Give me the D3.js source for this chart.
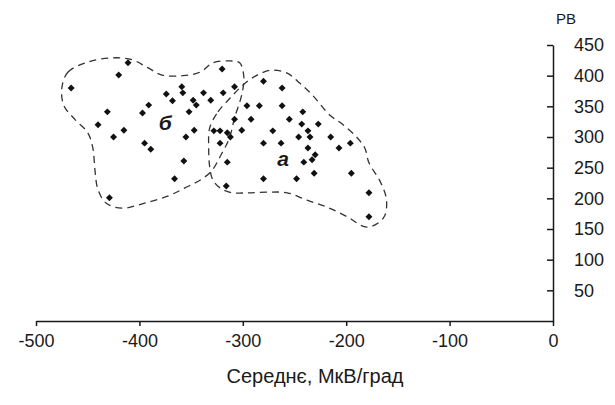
<!DOCTYPE html>
<html>
<head>
<meta charset="utf-8">
<script src="https://cdn.jsdelivr.net/npm/d3@7"></script>
<style>
  body { margin: 0; background: #fff; }
  text { font-family: "Liberation Sans", Arial, sans-serif; fill: #1a1a1a; }
</style>
</head>
<body>
<div id="chart"></div>
<script>
// points: mean (mkV/deg) and PB
var meanVals = [-466, -420, -411, -320, -431, -440, -425, -415, -397, -391, -395, -389,
  -374, -368, -359, -358, -348, -345, -338, -331, -319, -308, -352, -347, -355, -357,
  -366, -429, -316, -315, -322, -328, -322, -315, -312, -308, -301, -296, -284, -292,
  -280, -262, -262, -242, -255, -243, -227, -237, -271, -246, -235, -215, -280, -263,
  -237, -207, -196, -230, -241, -233, -231, -195, -280, -248, -178, -178];
var pbVals = [380, 401, 421, 411, 341, 320, 300, 311, 339, 352, 290, 280,
  370, 359, 382, 372, 360, 352, 372, 360, 372, 382, 341, 311, 300, 261,
  232, 201, 220, 259, 290, 310, 310, 307, 300, 329, 311, 351, 351, 329,
  391, 380, 351, 341, 329, 321, 321, 310, 310, 300, 300, 300, 290, 290,
  282, 282, 290, 271, 259, 263, 241, 241, 232, 232, 209, 170];

// outlines of the two groups (same units)
var outlineB = [[-475, 380], [-469, 406], [-450, 422], [-427, 429], [-407, 426], [-392, 413],
  [-378, 401], [-358, 400], [-341, 406], [-329, 421], [-312, 424], [-303, 421], [-299, 398],
  [-301, 369], [-308, 331], [-313, 298], [-321, 271], [-330, 245], [-341, 230], [-356, 217],
  [-372, 204], [-395, 192], [-417, 184], [-432, 192], [-440, 214], [-443, 246], [-445, 282],
  [-450, 307], [-462, 328], [-473, 351]];
var outlineA = [[-332, 315], [-324, 341], [-312, 364], [-299, 386], [-286, 401], [-272, 409],
  [-257, 404], [-245, 388], [-233, 369], [-216, 336], [-203, 320], [-190, 300], [-182, 282],
  [-178, 258], [-167, 227], [-161, 197], [-164, 168], [-180, 153], [-199, 170], [-219, 186],
  [-238, 197], [-257, 209], [-277, 210], [-296, 209], [-310, 209], [-322, 217], [-329, 230],
  [-332, 251], [-333, 284]];

var groupLabels = [{ name: "б", x: -375, y: 311 }, { name: "а", x: -261, y: 253 }];

var xTicks = [-500, -400, -300, -200, -100, 0];
var yTicks = [50, 100, 150, 200, 250, 300, 350, 400, 450];

var svgWidth = 615;
var svgHeight = 405;

var svg = d3.select("#chart")
  .append("svg")
  .attr("width", svgWidth)
  .attr("height", svgHeight);

var xScale = d3.scaleLinear().domain([-500, 0]).range([36, 553]);
var yScale = d3.scaleLinear().domain([0, 450]).range([321, 45]);

// x axis
var xAxis = svg.append("g")
  .attr("transform", "translate(0," + yScale(0) + ")")
  .call(d3.axisBottom(xScale).tickValues(xTicks).tickSizeInner(5).tickSizeOuter(0).tickPadding(8)
    .tickFormat(d => String(d)));
xAxis.selectAll("text").style("font-size", "18px").attr("fill", "#1a1a1a");

// y axis on the right, ticks pointing into the plot
var yAxis = svg.append("g")
  .attr("transform", "translate(" + xScale(0) + ",0)")
  .call(d3.axisRight(yScale).tickValues(yTicks).tickSizeInner(-6).tickSizeOuter(0).tickPadding(21));
yAxis.selectAll("text").style("font-size", "18px").attr("fill", "#1a1a1a");

svg.selectAll(".domain, .tick line").attr("stroke", "#1a1a1a").attr("stroke-width", 1.5);

// group outlines
var outline = d3.line()
  .x(d => xScale(d[0]))
  .y(d => yScale(d[1]))
  .curve(d3.curveCatmullRomClosed);

svg.selectAll(".zone")
  .data([outlineB, outlineA])
  .enter()
  .append("path")
  .attr("class", "zone")
  .attr("d", outline)
  .attr("fill", "none")
  .attr("stroke", "#333")
  .attr("stroke-width", 1.3)
  .attr("stroke-dasharray", "7,5");

// points
var pts = meanVals.map((m, i) => ({ x: m, y: pbVals[i] }));
svg.append("g")
  .selectAll("path")
  .data(pts)
  .enter()
  .append("path")
  .attr("d", d3.symbol().type(d3.symbolSquare).size(24))
  .attr("transform", d => "translate(" + xScale(d.x) + "," + yScale(d.y) + ") rotate(45)")
  .attr("fill", "#111");

// group letters
svg.selectAll(".glabel")
  .data(groupLabels)
  .enter()
  .append("text")
  .attr("class", "glabel")
  .attr("x", d => xScale(d.x))
  .attr("y", d => yScale(d.y))
  .attr("text-anchor", "middle")
  .style("font-size", "21px")
  .style("font-weight", "bold")
  .style("font-style", "italic")
  .text(d => d.name);

// axis titles
svg.append("text")
  .attr("x", 556)
  .attr("y", 24)
  .style("font-size", "15px")
  .text("РВ");

svg.append("text")
  .attr("x", 315)
  .attr("y", 383)
  .attr("text-anchor", "middle")
  .style("font-size", "20px")
  .text("Середнє, МкВ/град");
</script>
</body>
</html>
